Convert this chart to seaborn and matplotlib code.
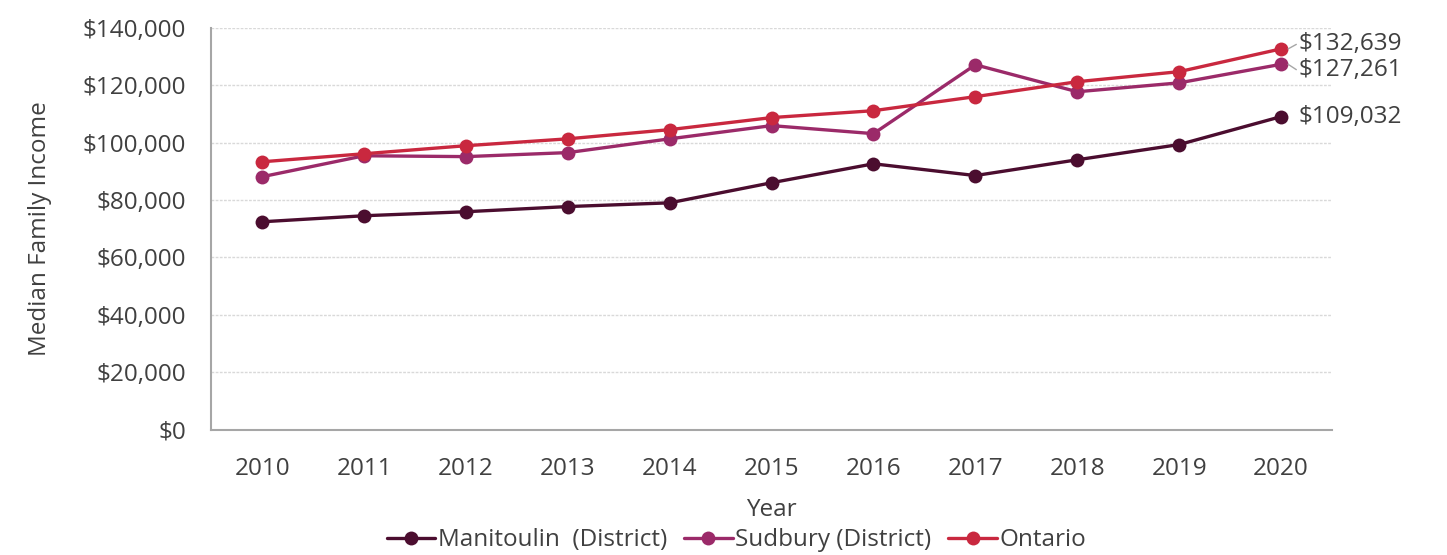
import matplotlib
matplotlib.use("Agg")
import matplotlib.pyplot as plt
import matplotlib.ticker as mticker
import pandas as pd
import seaborn as sns

years = [2010, 2011, 2012, 2013, 2014, 2015, 2016, 2017, 2018, 2019, 2020]
manitoulin = [72400, 74500, 75900, 77700, 79000, 86000, 92600, 88500, 94000, 99300, 109032]
sudbury = [88100, 95400, 95100, 96500, 101300, 105900, 103100, 127100, 117700, 120800, 127261]
ontario = [93300, 96100, 98900, 101300, 104500, 108700, 111100, 116000, 121200, 124700, 132639]

series_names = ["Manitoulin  (District)", "Sudbury (District)", "Ontario"]
series_colors = ["#4b0d2f", "#9b2a69", "#c9283f"]
end_labels = ["$109,032", "$127,261", "$132,639"]

rows = []
for name, vals in zip(series_names, [manitoulin, sudbury, ontario]):
    for i, v in enumerate(vals):
        rows.append({"pos": i, "Income": v, "Series": name})
df = pd.DataFrame(rows)

sns.set_theme(style="white")
plt.rcParams["font.family"] = ["Open Sans", "DejaVu Sans"]
text_color = "#404040"
fs = 17.5

fig = plt.figure(figsize=(14.47, 5.55), dpi=100)
ax = fig.add_axes([0.146, 0.226, 0.7745, 0.724])

sns.lineplot(data=df, x="pos", y="Income", hue="Series", hue_order=series_names,
             palette=dict(zip(series_names, series_colors)), marker="o",
             markersize=10, markeredgewidth=0, linewidth=2.4, ax=ax)

ax.set_xlim(-0.5, len(years) - 0.5)
ax.set_ylim(0, 140000)
ax.set_xticks(range(len(years)))
ax.set_xticklabels([str(y) for y in years])
ax.yaxis.set_major_locator(mticker.MultipleLocator(20000))
ax.yaxis.set_major_formatter(mticker.FuncFormatter(lambda v, p: f"${v:,.0f}"))
ax.grid(axis="y", color="#d9d9d9", linewidth=1, linestyle=(0, (2, 1)))
ax.set_axisbelow(True)

for side in ["top", "right"]:
    ax.spines[side].set_visible(False)
for side in ["left", "bottom"]:
    ax.spines[side].set_color("#a6a6a6")
    ax.spines[side].set_linewidth(1.5)

ax.tick_params(axis="both", labelsize=fs, colors=text_color, length=0)
ax.tick_params(axis="x", pad=20)
ax.tick_params(axis="y", pad=18)
ax.set_xlabel("Year", fontsize=fs, color=text_color, labelpad=12)
ax.set_ylabel("Median Family Income", fontsize=fs, color=text_color, labelpad=22)

# end-of-line value labels, with short leader lines where a label is offset
last = len(years) - 1
label_y = {"$109,032": 109032, "$127,261": 125400, "$132,639": 134200}
for name, vals, lab in zip(series_names, [manitoulin, sudbury, ontario], end_labels):
    ty = label_y[lab]
    if abs(ty - vals[-1]) > 500:
        ax.plot([last + 0.07, last + 0.15], [vals[-1], ty], color="#a6a6a6", linewidth=1)
    ax.annotate(lab, xy=(last, vals[-1]), xytext=(last + 0.17, ty),
                textcoords="data", fontsize=fs, color=text_color,
                va="center", ha="left", annotation_clip=False)

handles, labels = ax.get_legend_handles_labels()
ax.get_legend().remove()
fig.legend(handles, labels, loc="center", bbox_to_anchor=(0.509, 0.027),
           ncol=3, frameon=False, fontsize=fs, handlelength=2.0,
           handletextpad=0.1, columnspacing=0.7, labelcolor=text_color,
           borderaxespad=0, borderpad=0)

fig.savefig("out.png", dpi=100, facecolor="white")
